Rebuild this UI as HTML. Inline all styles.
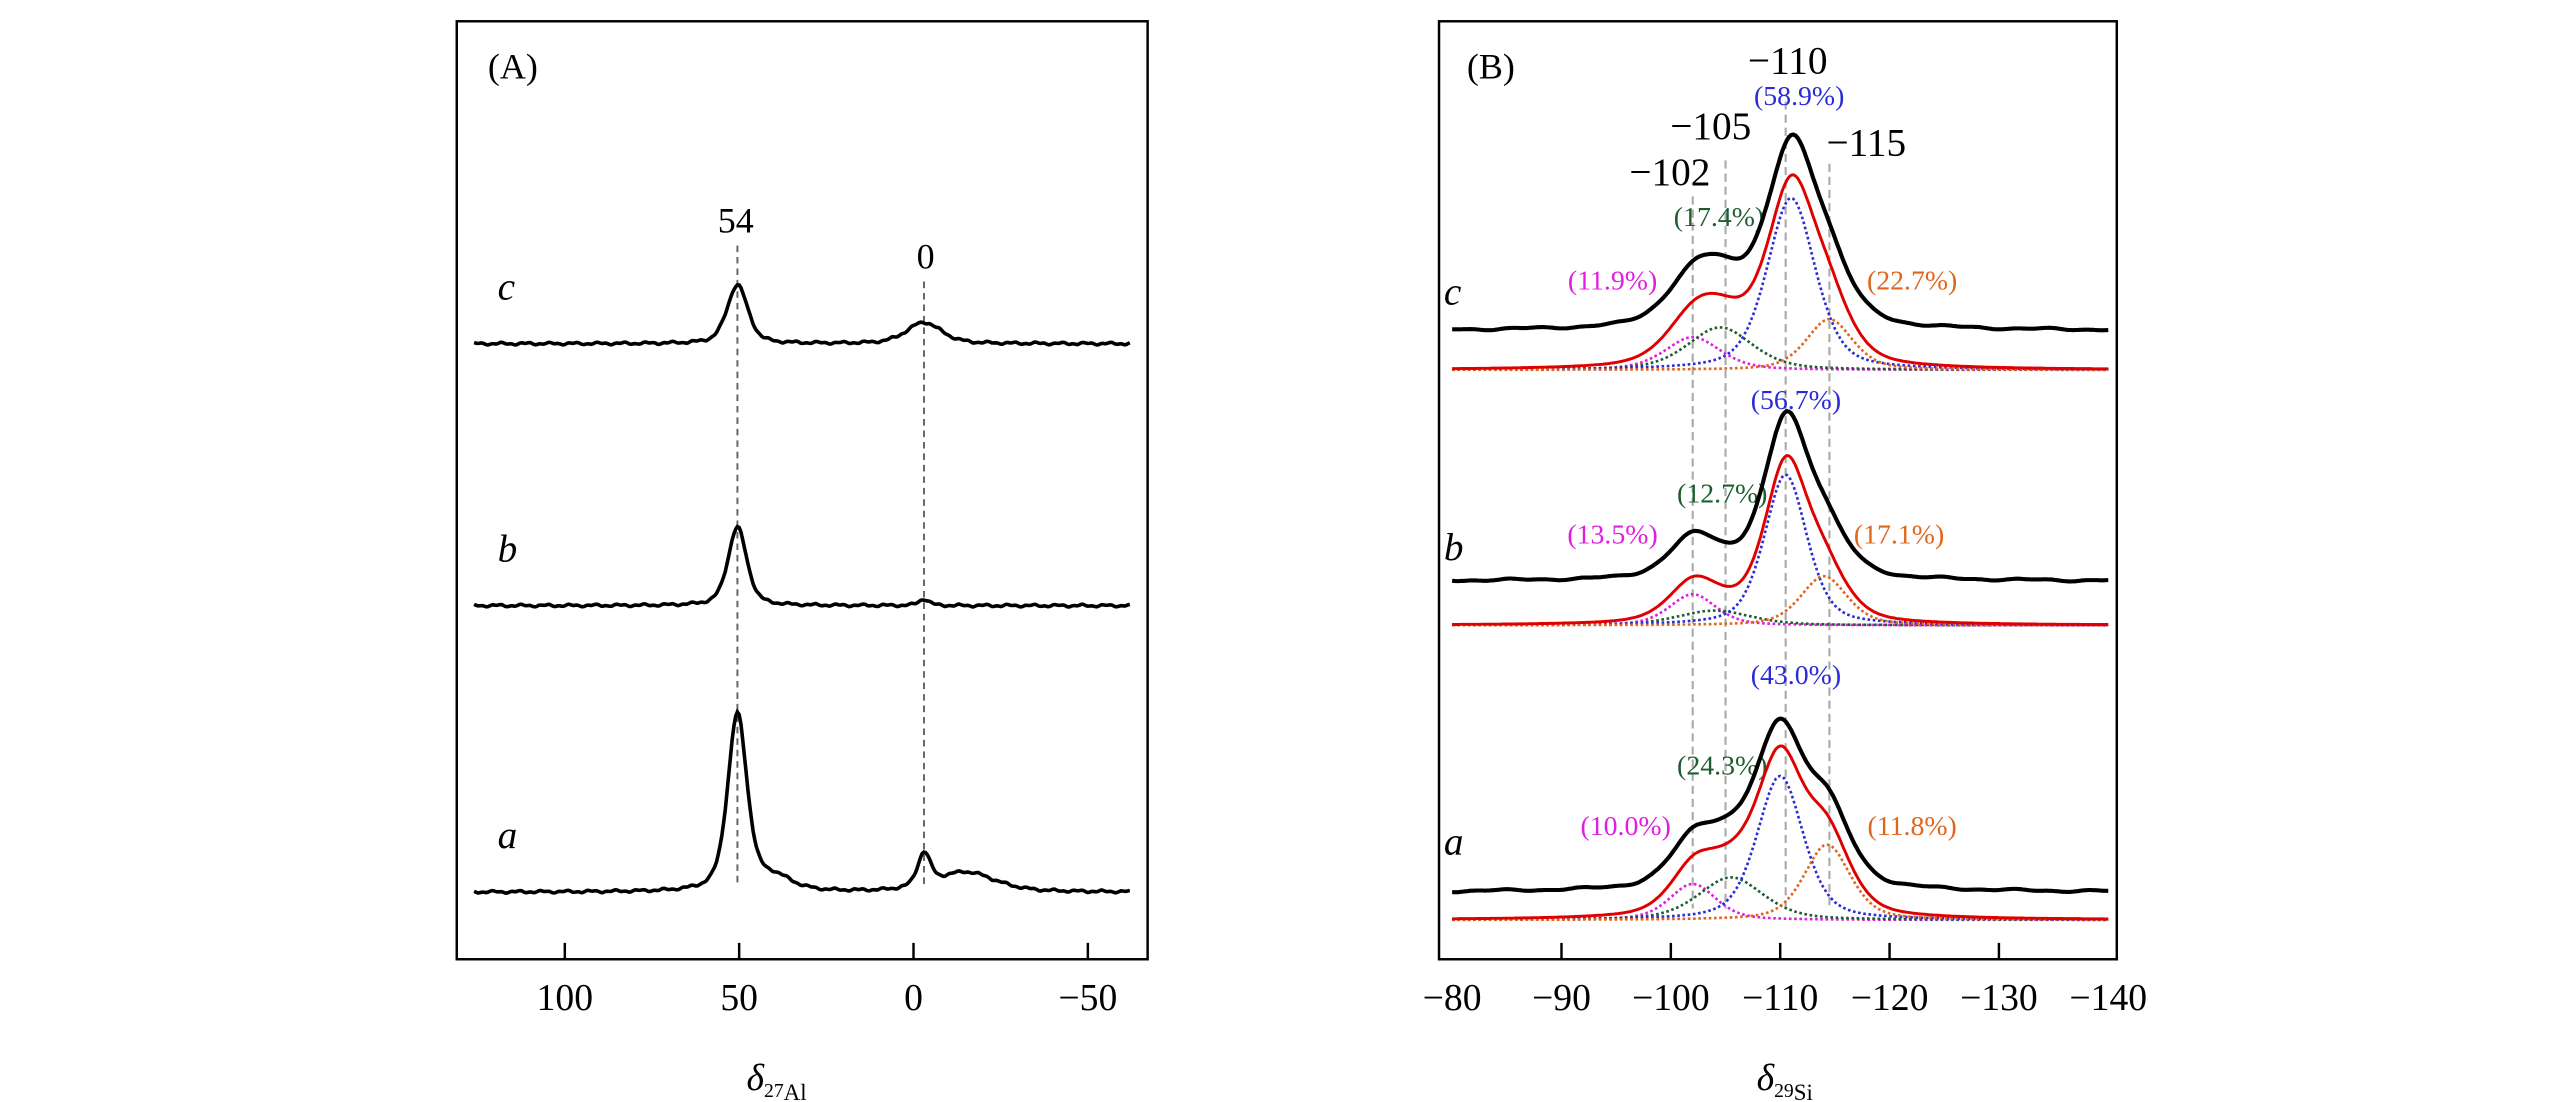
<!DOCTYPE html>
<html><head><meta charset="utf-8"><style>
html,body{margin:0;padding:0;background:#fff;}
svg{display:block;font-family:"Liberation Serif",serif;}
</style></head><body>
<svg id="fig" width="2567" height="1102" viewBox="0 0 1568 673.2" preserveAspectRatio="none" xmlns="http://www.w3.org/2000/svg">
<rect width="1568" height="673.2" fill="#fff"/>
<g id="pa"></g>
<g id="pb"></g>
</svg>
<script>
// ---------- Panel A data ----------
const aTicks=[100,50,0,-50];
const aTickLabels=["100","50","0","\u221250"];
const aSamples=["a","b","c"];
const aBaselines=[0,0,0];
const aOffsets=[545,370,210];
const aCenters=[[50.5,-3,-15,40],[50.5,-3],[50.5,-3]];
const aHeights=[[108,20,12,8],[48,4],[36,13]];
const aWidths=[[3.3,2.2,10,6],[3.2,1.8],[3.5,6]];
const aMarkers=[50.5,-3];
const aMarkerLabels=["54","0"];
// ---------- Panel B data ----------
const bTicks=[-80,-90,-100,-110,-120,-130,-140];
const bTickLabels=["\u221280","\u221290","\u2212100","\u2212110","\u2212120","\u2212130","\u2212140"];
const bSamples=["a","b","c"];
const bOffsets=[562,382,226];
const bBlackShift=[17,27,24];
const bCompColors=["#e01ee0","#1e5e2e","#2a2ad8","#e0661a"];
const bCenters=[[-102,-105.5,-110,-114.3],[-102,-104,-110.5,-114],[-102,-104.5,-111,-114.5]];
const bHeights=[[22,26,88,46],[19,9,92,30],[20,26,105,31]];
const bWidths=[[2.5,3.5,2.5,2.5],[2.5,4,2.3,2.5],[3,3.5,2.6,2.5]];
const bPercents=[["(10.0%)","(24.3%)","(43.0%)","(11.8%)"],["(13.5%)","(12.7%)","(56.7%)","(17.1%)"],["(11.9%)","(17.4%)","(58.9%)","(22.7%)"]];
const bMarkers=[-102,-105,-110.5,-114.5];
const bMarkerLabels=["\u2212102","\u2212105","\u2212110","\u2212115"];

const NS="http://www.w3.org/2000/svg";
function mk(parent,tag,attrs,text){const e=document.createElementNS(NS,tag);for(const k in attrs)e.setAttribute(k,attrs[k]);if(text!==undefined)e.textContent=text;parent.appendChild(e);return e;}
function pv(x,c,h,w,eta){const d=(x-c)/w;return h*(eta/(1+d*d)+(1-eta)*Math.exp(-Math.LN2*d*d));}

const xA=v=>558-2.13*v;
const yA=(off,v)=>off-v;
const xB=v=>887-(v+80)*6.68;
const yB=(off,v)=>off-v;

// ---------- Panel A ----------
const pa=document.getElementById('pa');
let r=mk(pa,'rect',{x:279,y:13,width:422,height:573,fill:'none',stroke:'#000','stroke-width':1.5});

let t=mk(pa,'text',{x:298,y:48,'font-size':22},'(A)');

aTicks.forEach((v,i)=>{
  let l=mk(pa,'line',{x1:xA(v),x2:xA(v),y1:586,y2:576,stroke:'#000','stroke-width':1.5});
  
  let tl=mk(pa,'text',{x:xA(v),y:617,'font-size':23,'text-anchor':'middle'},aTickLabels[i]);
  
});
let xl=mk(pa,'text',{x:456,y:666,'font-size':23});

xl.innerHTML='<tspan font-style="italic">δ</tspan><tspan font-size="12" dy="4">27</tspan><tspan font-size="14" dy="2">Al</tspan>';
const mTop=[150,172];
aMarkers.forEach((v,i)=>{
  let l=mk(pa,'line',{x1:xA(v),x2:xA(v),y1:mTop[i],y2:540,stroke:'#666','stroke-width':1.2,'stroke-dasharray':'4,3'});
  
  let tl=mk(pa,'text',{x:xA(v)+(i?1:-1),y:mTop[i]-8,'font-size':22,'text-anchor':'middle'},aMarkerLabels[i]);
  
});
aSamples.forEach((s,si)=>{
  let d='';
  for(let v=126;v>=-62;v-=0.5){
    let y=aBaselines[si];
    aCenters[si].forEach((c,k)=>{y+=pv(v,c,aHeights[si][k],aWidths[si][k],0.5);});
    y+=0.5*Math.sin(v*0.9+si)+0.35*Math.sin(v*2.3);
    d+=(d?'L':'M')+xA(v).toFixed(1)+','+yA(aOffsets[si],y).toFixed(1);
  }
  let p=mk(pa,'path',{d:d,fill:'none',stroke:'#000','stroke-width':2.2});
  
  let lb=mk(pa,'text',{x:304,y:aOffsets[si]-27,'font-size':24,'font-style':'italic'},s);
  
});

// ---------- Panel B ----------
const pb=document.getElementById('pb');
r=mk(pb,'rect',{x:879,y:13,width:414,height:573,fill:'none',stroke:'#000','stroke-width':1.5});

t=mk(pb,'text',{x:896,y:48,'font-size':22},'(B)');

bTicks.forEach((v,i)=>{
  if(i>0&&i<bTicks.length-1){
    let l=mk(pb,'line',{x1:xB(v),x2:xB(v),y1:586,y2:576,stroke:'#000','stroke-width':1.5});
    
  }
  let tl=mk(pb,'text',{x:xB(v),y:617,'font-size':23,'text-anchor':'middle'},bTickLabels[i]);
  
});
xl=mk(pb,'text',{x:1073,y:666,'font-size':23});

xl.innerHTML='<tspan font-style="italic">δ</tspan><tspan font-size="12" dy="4">29</tspan><tspan font-size="14" dy="2">Si</tspan>';
const bmTop=[120,98,62,100];
const bmLab=[[1020,113],[1045,85],[1092,45],[1140,95]];
bMarkers.forEach((v,i)=>{
  let l=mk(pb,'line',{x1:xB(v),x2:xB(v),y1:bmTop[i],y2:555,stroke:'#aaa','stroke-width':1.3,'stroke-dasharray':'5,3'});
  
  let tl=mk(pb,'text',{x:bmLab[i][0],y:bmLab[i][1],'font-size':24,'text-anchor':'middle'},bMarkerLabels[i]);
  
});
const pctPos=[[[993,510],[1052,473],[1097,418],[1168,510]],[[985,332],[1052,307],[1097,250],[1160,332]],[[985,177],[1050,138],[1099,64],[1168,177]]];
bSamples.forEach((s,si)=>{
  const off=bOffsets[si];
  let comps=bCenters[si].map(()=> '');
  let fit='',blk='';
  for(let v=-80;v>=-140;v-=0.2){
    let sum=0;
    bCenters[si].forEach((c,k)=>{
      const y=pv(v,c,bHeights[si][k],bWidths[si][k],0.45);sum+=y;
      comps[k]+=(comps[k]?'L':'M')+xB(v).toFixed(1)+','+yB(off,y).toFixed(1);
    });
    fit+=(fit?'L':'M')+xB(v).toFixed(1)+','+yB(off,sum).toFixed(1);
    const n=0.5*Math.sin(v*0.8+si)+0.3*Math.sin(v*1.9);
    blk+=(blk?'L':'M')+xB(v).toFixed(1)+','+yB(off,sum+bBlackShift[si]+n).toFixed(1);
  }
  comps.forEach((d,k)=>{
    let p=mk(pb,'path',{d:d,fill:'none',stroke:bCompColors[k],'stroke-width':1.6,'stroke-dasharray':'1.6,1.6'});
    
    let tl=mk(pb,'text',{x:pctPos[si][k][0],y:pctPos[si][k][1],'font-size':17,'text-anchor':'middle',fill:bCompColors[k]},bPercents[si][k]);
    
  });
  let p=mk(pb,'path',{d:fit,fill:'none',stroke:'#e00000','stroke-width':1.8});
  
  p=mk(pb,'path',{d:blk,fill:'none',stroke:'#000','stroke-width':2.5});
  
  let lb=mk(pb,'text',{x:882,y:off-40,'font-size':24,'font-style':'italic'},s);
  
});
</script>
</body></html>
